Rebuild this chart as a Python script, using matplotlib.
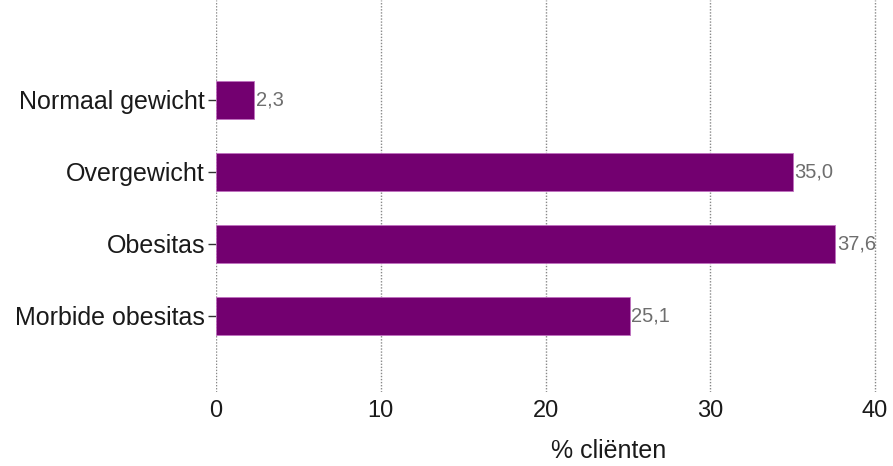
import matplotlib
matplotlib.use("Agg")
import matplotlib.pyplot as plt

categories = ["Normaal gewicht", "Overgewicht", "Obesitas", "Morbide obesitas"]
values = [2.3, 35.0, 37.6, 25.1]
xticks = [0, 10, 20, 30, 40]

plt.rcParams['font.family'] = ['Liberation Sans', 'DejaVu Sans']

fig = plt.figure(figsize=(8.93, 4.66), dpi=100)
W, H = 893, 466
ax = fig.add_axes([216 / W, 1 - 392 / H, (890 - 216) / W, 392 / H])

pos = list(range(len(categories)))
ax.barh(pos, values, height=0.53, color="#730070", edgecolor="#c070c0", linewidth=0.6, zorder=3)
for p, v in zip(pos, values):
    ax.text(v + 0.1, p, f"{v:.1f}".replace(".", ","), va="center", ha="left",
            fontsize=14.5, color="#6e6e6e", zorder=4)

ax.set_xlim(0, 40 * (890 - 216) / (875 - 216))
ax.set_ylim(3 + 1.06, -1.39)
ax.set_yticks(pos)
ax.set_yticklabels(categories, fontsize=18, color="#1a1a1a")
ax.set_xticks(xticks)
ax.set_xticklabels([str(t) for t in xticks], fontsize=17, color="#1a1a1a")
ax.tick_params(axis="x", length=0, pad=6)
ax.tick_params(axis="y", length=6, width=1, color="#333333", pad=2)

for t in xticks:
    ax.axvline(t, color="#888888", linestyle=(0, (1, 1.2)), linewidth=1.0, zorder=1)
for s in ax.spines.values():
    s.set_visible(False)

ax.set_xlabel("% cliënten", fontsize=18, color="#1a1a1a")
ax.xaxis.label.set_va("center")
ax.xaxis.set_label_coords((609 - 216) / (890 - 216), -(451 - 392) / 392)

fig.savefig("out.png", dpi=100)
